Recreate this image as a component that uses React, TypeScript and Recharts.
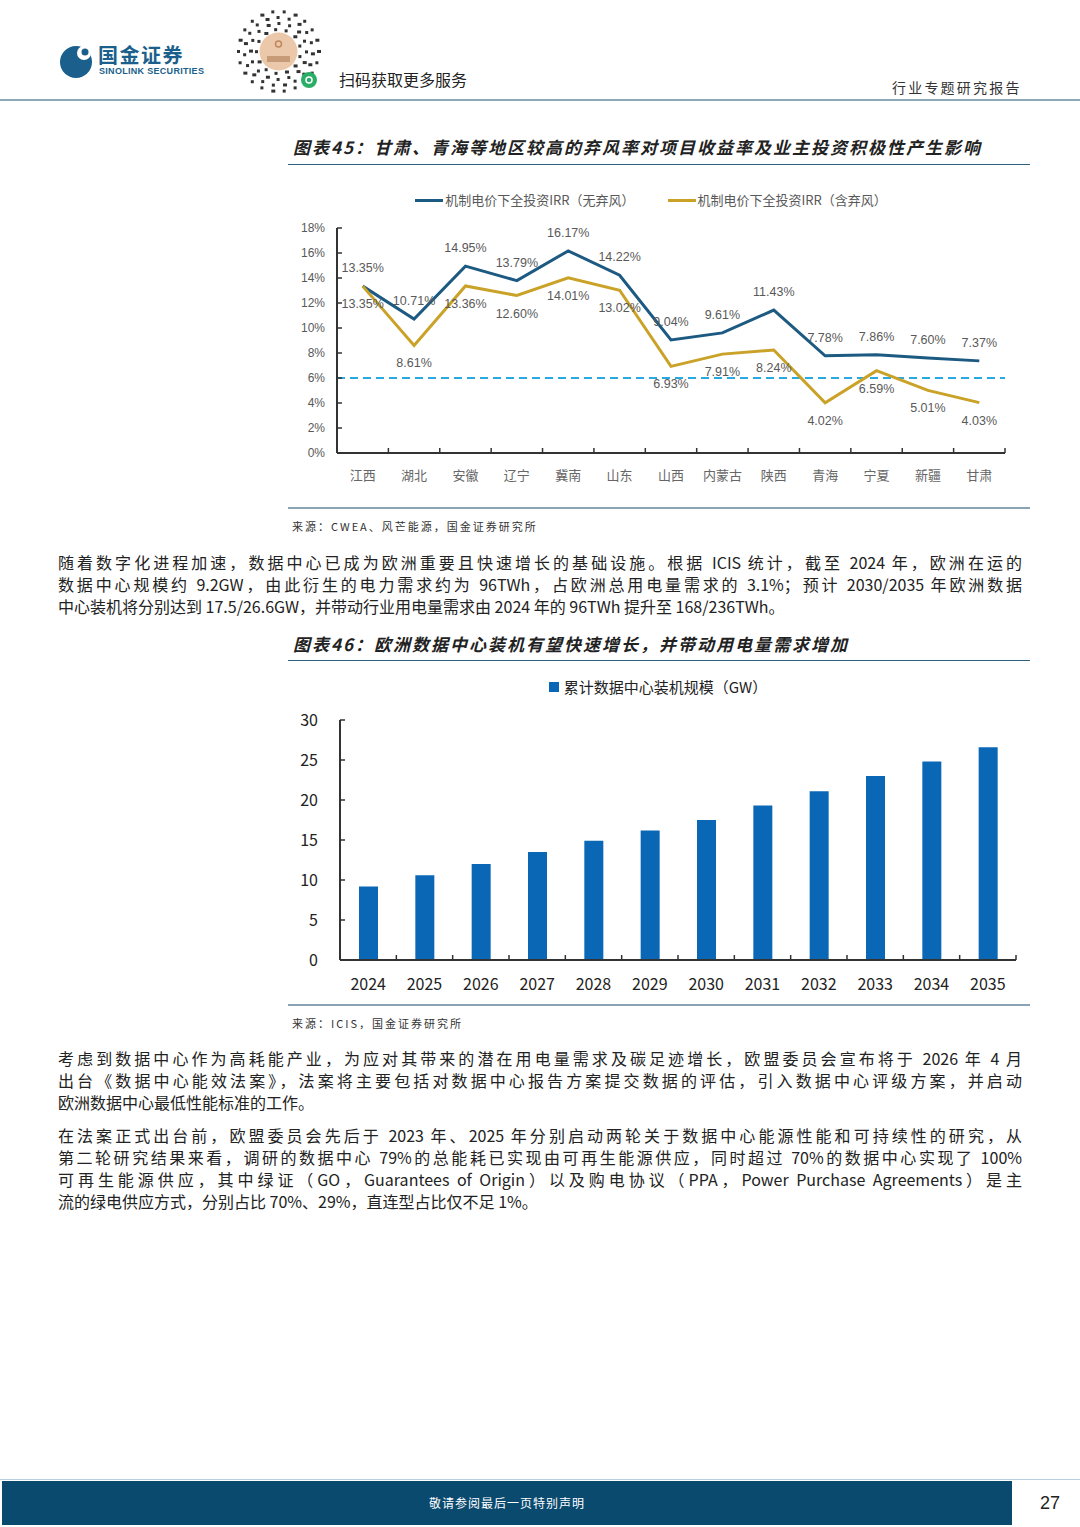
import React from 'react'
import { LineChart, Line, BarChart, Bar, XAxis, YAxis, ReferenceLine, Legend } from 'recharts'

// 图表45 数据
const regions = ['江西', '湖北', '安徽', '辽宁', '冀南', '山东', '山西', '内蒙古', '陕西', '青海', '宁夏', '新疆', '甘肃']
const irrNoCurtailment = [13.35, 10.71, 14.95, 13.79, 16.17, 14.22, 9.04, 9.61, 11.43, 7.78, 7.86, 7.6, 7.37]
const irrWithCurtailment = [13.35, 8.61, 13.36, 12.6, 14.01, 13.02, 6.93, 7.91, 8.24, 4.02, 6.59, 5.01, 4.03]
const irrTicks = [0, 2, 4, 6, 8, 10, 12, 14, 16, 18]
const irrBenchmark = 6

// 图表46 数据
const years = ['2024', '2025', '2026', '2027', '2028', '2029', '2030', '2031', '2032', '2033', '2034', '2035']
const capacityGW = [9.2, 10.6, 12.0, 13.5, 14.9, 16.2, 17.5, 19.3, 21.1, 23.0, 24.8, 26.6]
const capacityTicks = [0, 5, 10, 15, 20, 25, 30]

const BLUE = '#1c5a82'
const GOLD = '#c9a227'
const BAR = '#0a67b5'
const CJK = '"Noto Sans CJK SC", "Noto Sans", sans-serif'
const ARIAL = '"Liberation Sans", Arial, sans-serif'

const irrData = regions.map((region, i) => ({
  region,
  noCurt: irrNoCurtailment[i],
  curt: irrWithCurtailment[i],
}))

const capacityData = years.map((year, i) => ({ year, gw: capacityGW[i] }))

const C1 = { width: 742, height: 320, margin: { top: 6, right: 25, bottom: 22, left: 9 }, yw: 40 }
const C1_STEP = (C1.width - C1.margin.left - C1.margin.right - C1.yw) / regions.length
const C2 = { width: 742, height: 335, margin: { top: 6, right: 14, bottom: 8, left: 12 }, yw: 40 }
const C2_STEP = (C2.width - C2.margin.left - C2.margin.right - C2.yw) / years.length

function makeLabel(dy: number) {
  return (props: any) => {
    const x = props.x ?? props.viewBox?.x
    const y = props.y ?? props.viewBox?.y
    if (x == null || y == null) return null
    return (
      <text
        x={x}
        y={y + dy}
        textAnchor="middle"
        dominantBaseline="central"
        fontSize={12.5}
        fill="#595959"
        fontFamily={ARIAL}
      >
        {Number(props.value).toFixed(2)}%
      </text>
    )
  }
}

function makeCategoryTick(step: number, gap: number, count: number, fontSize: number, color: string, family: string) {
  return (props: any) => {
    const { x, y, payload, index } = props
    const axisY = y - gap
    return (
      <g>
        <line x1={x - step / 2} x2={x - step / 2} y1={axisY} y2={axisY - 5} stroke="#333" strokeWidth={1.5} />
        {index === count - 1 && (
          <line x1={x + step / 2} x2={x + step / 2} y1={axisY} y2={axisY - 5} stroke="#333" strokeWidth={1.5} />
        )}
        <text
          x={x}
          y={y}
          textAnchor="middle"
          dominantBaseline="central"
          fontSize={fontSize}
          fill={color}
          fontFamily={family}
        >
          {payload.value}
        </text>
      </g>
    )
  }
}

function IrrLegend() {
  const item = (color: string, label: string) => (
    <div style={{ display: 'flex', alignItems: 'center' }}>
      <span style={{ display: 'inline-block', width: 28, height: 3, background: color, marginRight: 2 }} />
      <span>{label}</span>
    </div>
  )
  return (
    <div
      style={{
        height: 37,
        display: 'flex',
        justifyContent: 'center',
        alignItems: 'flex-start',
        gap: 33,
        fontSize: 13,
        lineHeight: '18px',
        color: '#595959',
        fontFamily: CJK,
      }}
    >
      {item(BLUE, '机制电价下全投资IRR（无弃风）')}
      {item(GOLD, '机制电价下全投资IRR（含弃风）')}
    </div>
  )
}

function CapacityLegend() {
  return (
    <div
      style={{
        height: 46,
        paddingTop: 2,
        boxSizing: 'border-box',
        display: 'flex',
        justifyContent: 'center',
        alignItems: 'flex-start',
        fontSize: 15,
        lineHeight: '22px',
        color: '#222',
        fontFamily: CJK,
      }}
    >
      <div style={{ display: 'flex', alignItems: 'center' }}>
        <span style={{ display: 'inline-block', width: 10, height: 10, background: BAR, marginRight: 5 }} />
        <span>累计数据中心装机规模（GW）</span>
      </div>
    </div>
  )
}

function IrrChart() {
  return (
    <LineChart width={C1.width} height={C1.height} data={irrData} margin={C1.margin}>
      <Legend verticalAlign="top" align="center" content={() => <IrrLegend />} />
      <XAxis
        dataKey="region"
        interval={0}
        height={30}
        tickSize={0}
        tickMargin={21}
        padding={{ left: C1_STEP / 2, right: C1_STEP / 2 }}
        axisLine={{ stroke: '#333', strokeWidth: 2 }}
        tick={makeCategoryTick(C1_STEP, 21, regions.length, 13, '#666', CJK)}
      />
      <YAxis
        width={C1.yw}
        domain={[0, 18]}
        ticks={irrTicks}
        interval={0}
        tickSize={-5}
        tickMargin={17}
        axisLine={{ stroke: '#333', strokeWidth: 2 }}
        tickLine={{ stroke: '#333', strokeWidth: 1.5 }}
        tick={{ fontSize: 12, fill: '#595959', fontFamily: ARIAL }}
        tickFormatter={(v: number) => `${v}%`}
      />
      <ReferenceLine y={irrBenchmark} stroke="#27a9e1" strokeWidth={2} strokeDasharray="8 5" />
      <Line
        dataKey="noCurt"
        stroke={BLUE}
        strokeWidth={3}
        dot={false}
        isAnimationActive={false}
        label={makeLabel(-18)}
      />
      <Line
        dataKey="curt"
        stroke={GOLD}
        strokeWidth={3}
        dot={false}
        isAnimationActive={false}
        label={makeLabel(18)}
      />
    </LineChart>
  )
}

function CapacityChart() {
  return (
    <BarChart width={C2.width} height={C2.height} data={capacityData} margin={C2.margin}>
      <Legend verticalAlign="top" align="center" content={() => <CapacityLegend />} />
      <XAxis
        dataKey="year"
        interval={0}
        height={35}
        tickSize={0}
        tickMargin={23}
        axisLine={{ stroke: '#333', strokeWidth: 2 }}
        tick={makeCategoryTick(C2_STEP, 23, years.length, 16, '#222', CJK)}
      />
      <YAxis
        width={C2.yw}
        domain={[0, 30]}
        ticks={capacityTicks}
        interval={0}
        tickSize={-5}
        tickMargin={27}
        axisLine={{ stroke: '#333', strokeWidth: 2 }}
        tickLine={{ stroke: '#333', strokeWidth: 1.5 }}
        tick={{ fontSize: 16, fill: '#222', fontFamily: CJK }}
      />
      <Bar dataKey="gw" fill={BAR} barSize={19} isAnimationActive={false} />
    </BarChart>
  )
}

function Para({ top, lines }: { top: number; lines: string[] }) {
  return (
    <div style={{ position: 'absolute', left: 58, top, width: 964, fontSize: 16, color: '#222', fontFamily: CJK }}>
      {lines.map((l, i) => {
        const last = i === lines.length - 1
        return (
          <div
            key={i}
            style={{
              height: 22,
              lineHeight: '22px',
              textAlign: last ? 'left' : 'justify',
              textAlignLast: last ? 'left' : 'justify',
            }}
          >
            {l}
          </div>
        )
      })}
    </div>
  )
}

function QrMark() {
  const marks: React.ReactNode[] = []
  for (let ring = 0; ring < 4; ring++) {
    const r = 40 - ring * 6
    const n = 22 - ring * 3
    for (let k = 0; k < n; k++) {
      const a = (k / n) * Math.PI * 2 + ring * 0.4
      marks.push(
        <rect
          key={`${ring}-${k}`}
          x={43.5 + Math.cos(a) * r - 1.5}
          y={43.5 + Math.sin(a) * r - 1.5}
          width={k % 3 === 0 ? 4 : 3}
          height={3}
          fill="#333"
        />
      )
    }
  }
  return (
    <svg width={87} height={87} style={{ position: 'absolute', left: 235, top: 8 }}>
      {marks}
      <circle cx={43.5} cy={43.5} r={19} fill="#ecc8ab" />
      <circle cx={43.5} cy={36} r={3} fill="none" stroke="#c0865e" strokeWidth={1.5} />
      <rect x={32} y={48} width={23} height={6} fill="#c79a78" />
      <circle cx={74} cy={72} r={8} fill="#2aae67" />
      <circle cx={74} cy={72} r={3} fill="none" stroke="#fff" strokeWidth={1.5} />
    </svg>
  )
}

const titleStyle: React.CSSProperties = {
  position: 'absolute',
  left: 293,
  fontSize: 17,
  fontWeight: 700,
  fontStyle: 'italic',
  color: '#222',
  lineHeight: '22px',
  letterSpacing: 2,
}

const sourceStyle: React.CSSProperties = {
  position: 'absolute',
  left: 292,
  fontSize: 11,
  color: '#333',
  lineHeight: '16px',
  letterSpacing: 2,
}

export default function App() {
  return (
    <div style={{ position: 'relative', width: 1080, height: 1527, background: '#fff', fontFamily: CJK, overflow: 'hidden' }}>
      <style>{'body{margin:0}'}</style>

      {/* 页眉 */}
      <svg width={40} height={40} style={{ position: 'absolute', left: 57, top: 42 }}>
        <circle cx={19} cy={20} r={16} fill="#1b5f8c" />
        <circle cx={27} cy={11} r={7} fill="#fff" />
        <circle cx={28} cy={10} r={3.5} fill="#1b5f8c" />
      </svg>
      <div
        style={{
          position: 'absolute',
          left: 98,
          top: 44,
          height: 21,
          fontSize: 20,
          fontWeight: 700,
          color: '#1b5f8c',
          lineHeight: '21px',
          letterSpacing: 1.5,
        }}
      >
        国金证券
      </div>
      <div
        style={{
          position: 'absolute',
          left: 99,
          top: 67,
          fontSize: 9,
          fontWeight: 700,
          color: '#1b5f8c',
          fontFamily: ARIAL,
          lineHeight: '9px',
          letterSpacing: 0.3,
        }}
      >
        SINOLINK SECURITIES
      </div>
      <QrMark />
      <div style={{ position: 'absolute', left: 339, top: 68, fontSize: 16, color: '#222', lineHeight: '22px' }}>
        扫码获取更多服务
      </div>
      <div
        style={{
          position: 'absolute',
          left: 892,
          top: 77,
          fontSize: 14,
          color: '#333',
          lineHeight: '20px',
          letterSpacing: 2.2,
        }}
      >
        行业专题研究报告
      </div>
      <div style={{ position: 'absolute', left: 0, top: 99, width: 1080, height: 2, background: '#8ea7b7' }} />

      {/* 图表45 */}
      <div style={{ ...titleStyle, top: 136 }}>
        图表45：甘肃、青海等地区较高的弃风率对项目收益率及业主投资积极性产生影响
      </div>
      <div style={{ position: 'absolute', left: 288, top: 164, width: 742, height: 1, background: '#2d5f80' }} />
      <div style={{ position: 'absolute', left: 288, top: 185 }}>
        <IrrChart />
      </div>
      <div style={{ position: 'absolute', left: 288, top: 507, width: 742, height: 2, background: '#8aa4b4' }} />
      <div style={{ ...sourceStyle, top: 518 }}>来源：CWEA、风芒能源，国金证券研究所</div>

      <Para
        top={551}
        lines={[
          '随着数字化进程加速，数据中心已成为欧洲重要且快速增长的基础设施。根据 ICIS 统计，截至 2024 年，欧洲在运的',
          '数据中心规模约 9.2GW，由此衍生的电力需求约为 96TWh，占欧洲总用电量需求的 3.1%；预计 2030/2035 年欧洲数据',
          '中心装机将分别达到 17.5/26.6GW，并带动行业用电量需求由 2024 年的 96TWh 提升至 168/236TWh。',
        ]}
      />

      {/* 图表46 */}
      <div style={{ ...titleStyle, top: 633 }}>图表46：欧洲数据中心装机有望快速增长，并带动用电量需求增加</div>
      <div style={{ position: 'absolute', left: 288, top: 660, width: 742, height: 1, background: '#2d5f80' }} />
      <div style={{ position: 'absolute', left: 288, top: 668 }}>
        <CapacityChart />
      </div>
      <div style={{ position: 'absolute', left: 288, top: 1004, width: 742, height: 2, background: '#8aa4b4' }} />
      <div style={{ ...sourceStyle, top: 1015 }}>来源：ICIS，国金证券研究所</div>

      <Para
        top={1047}
        lines={[
          '考虑到数据中心作为高耗能产业，为应对其带来的潜在用电量需求及碳足迹增长，欧盟委员会宣布将于 2026 年 4 月',
          '出台《数据中心能效法案》，法案将主要包括对数据中心报告方案提交数据的评估，引入数据中心评级方案，并启动',
          '欧洲数据中心最低性能标准的工作。',
        ]}
      />
      <Para
        top={1124}
        lines={[
          '在法案正式出台前，欧盟委员会先后于 2023 年、2025 年分别启动两轮关于数据中心能源性能和可持续性的研究，从',
          '第二轮研究结果来看，调研的数据中心 79%的总能耗已实现由可再生能源供应，同时超过 70%的数据中心实现了 100%',
          '可再生能源供应，其中绿证（GO，Guarantees of Origin）以及购电协议（PPA，Power Purchase Agreements）是主',
          '流的绿电供应方式，分别占比 70%、29%，直连型占比仅不足 1%。',
        ]}
      />

      {/* 页脚 */}
      <div style={{ position: 'absolute', left: 0, top: 1479, width: 1080, height: 1, background: '#b5d0e0' }} />
      <div
        style={{
          position: 'absolute',
          left: 2,
          top: 1481,
          width: 1010,
          height: 44,
          background: '#0b4a6f',
          color: '#fff',
          fontSize: 12,
          lineHeight: '44px',
          textAlign: 'center',
          letterSpacing: 1,
        }}
      >
        敬请参阅最后一页特别声明
      </div>
      <div style={{ position: 'absolute', left: 1040, top: 1491, fontSize: 18, color: '#222', lineHeight: '24px', fontFamily: ARIAL }}>
        27
      </div>
    </div>
  )
}
